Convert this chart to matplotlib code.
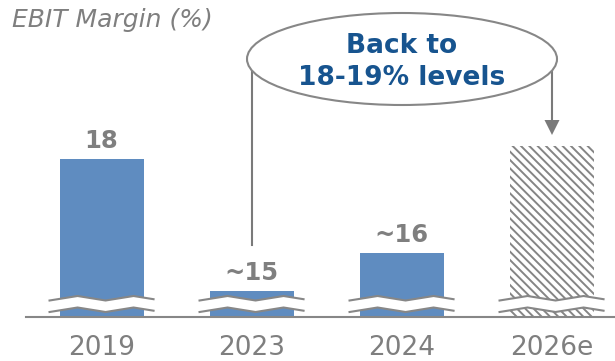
import matplotlib
matplotlib.use('Agg')
import matplotlib.pyplot as plt
from matplotlib.patches import Ellipse, Polygon
from matplotlib.transforms import Affine2D, blended_transform_factory

# ---- data ----
categories = ['2019', '2023', '2024', '2026e']
values = [18.0, 15.0, 15.85, 18.3]
value_labels = ['18', '~15', '~16', None]
forecast = [False, False, False, True]
title = 'EBIT Margin (%)'
callout = ['Back to', '18-19% levels']
axis_base = 14.4

# ---- figure ----
W, H = 615, 361
plt.rcParams['hatch.linewidth'] = 1.4
fig = plt.figure(figsize=(W / 100, H / 100), dpi=100)
ax = fig.add_axes([0, 44 / H, 1, 317 / H])
ax.set_xlim(-0.677, 3.423)
ax.set_ylim(axis_base, axis_base + 317 / 43.9)
ax.axis('off')

BLUE = '#5f8cc0'
GREY = '#7f7f7f'
LINE = '#878787'
NAVY = '#17548f'

# pixel coordinates, origin at top-left
px = Affine2D().scale(1 / W, -1 / H).translate(0, 1) + fig.transFigure
xpx = blended_transform_factory(ax.transData, px)

for i, (v, f) in enumerate(zip(values, forecast)):
    if f:
        ax.bar(i, v - axis_base, bottom=axis_base, width=0.56, color='white',
               edgecolor='#858585', hatch='\\' * 4, linewidth=0, zorder=2)
    else:
        ax.bar(i, v - axis_base, bottom=axis_base, width=0.56, color=BLUE,
               linewidth=0, zorder=2)
    if value_labels[i]:
        ax.annotate(value_labels[i], (i, v), xytext=(0, 8), textcoords='offset points',
                    ha='center', va='baseline', fontsize=17.5, fontweight='bold',
                    color=GREY, zorder=6)
    ax.text(i, 355, categories[i], transform=xpx, ha='center', va='baseline',
            fontsize=19, color=GREY)

# axis baseline
ax.plot([26, 615], [317, 317], transform=px, color=LINE, lw=1.5, zorder=3,
        clip_on=False)

# break symbols
fig.canvas.draw()
xs = [-52, -24, 4, 32, 52]
dy = [0, -4.5, 0, -4.5, -1.3]
for i in range(len(categories)):
    cx = ax.transData.transform((i, axis_base))[0]
    up = [(cx + a, 300.5 + b) for a, b in zip(xs, dy)]
    lo = [(cx + a, 312.0 + b) for a, b in zip(xs, dy)]
    ax.add_patch(Polygon(up + lo[::-1], closed=True, transform=px,
                         facecolor='white', edgecolor='none', zorder=3, clip_on=False))
    for pts in (up, lo):
        ax.plot([p[0] for p in pts], [p[1] for p in pts], transform=px,
                color=LINE, lw=1.5, zorder=4, clip_on=False)

# callout lines and arrow
ax.plot([252, 252], [59, 245], transform=px, color='#7a7a7a', lw=1.5, zorder=4,
        clip_on=False)
ax.plot([552, 552], [59, 121], transform=px, color='#7a7a7a', lw=1.5, zorder=4,
        clip_on=False)
ax.add_patch(Polygon([(544.5, 120), (559.5, 120), (552, 135)], closed=True,
                     transform=px, facecolor='#7a7a7a', edgecolor='none', zorder=4,
                     clip_on=False))
ax.add_patch(Ellipse((402, 59), 310, 92, transform=px, facecolor='white',
                     edgecolor=LINE, lw=1.5, zorder=5, clip_on=False))
fig.text(402, 53, callout[0], transform=px, ha='center', va='baseline',
         fontsize=19, fontweight='bold', color=NAVY, zorder=6)
fig.text(402, 85, callout[1], transform=px, ha='center', va='baseline',
         fontsize=19, fontweight='bold', color=NAVY, zorder=6)

# title
fig.text(12, 27, title, transform=px, ha='left', va='baseline', fontsize=18,
         style='italic', color=GREY)

fig.savefig('out.png', dpi=100)
